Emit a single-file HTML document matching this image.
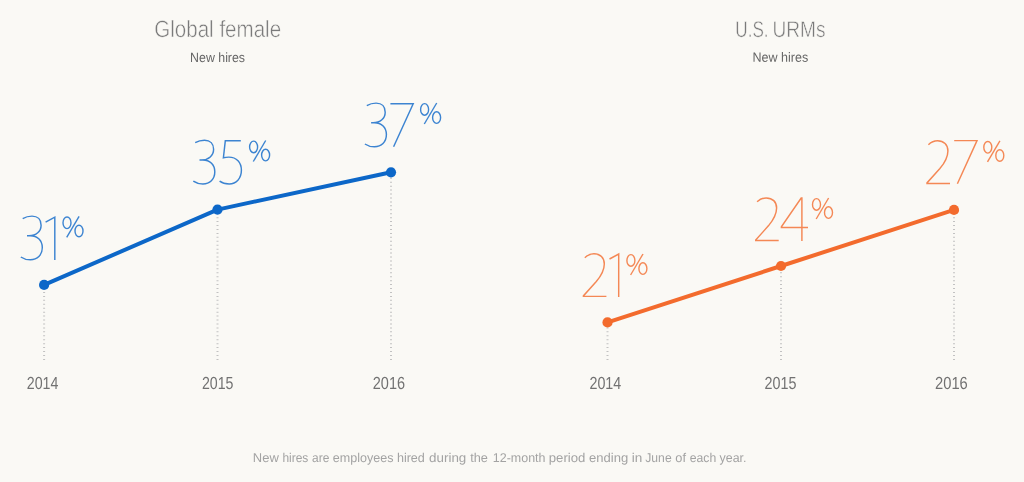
<!DOCTYPE html>
<html>
<head>
<meta charset="utf-8">
<title>New hires</title>
<style>
html,body{margin:0;padding:0;background:#faf9f5;}
body{width:1024px;height:482px;overflow:hidden;font-family:"Liberation Sans",sans-serif;}
svg{display:block;position:absolute;left:0;top:0;will-change:transform;}
text{font-family:"Liberation Sans",sans-serif;text-rendering:geometricPrecision;}
.ttl{font-size:23.6px;fill:#7a7a7a;stroke:#faf9f5;stroke-width:0.5px;paint-order:fill stroke;}
.ttl2{font-size:22.7px;}
.sub{font-size:13.3px;fill:#666;}
.yr{font-size:17.5px;fill:#727272;}
.ft{font-size:12.7px;fill:#a3a3a3;}
.dg{fill:none;stroke-opacity:0.8;stroke-width:1.45;stroke-linecap:butt;stroke-linejoin:miter;}
.pc{fill:none;stroke-opacity:0.8;stroke-width:1.4;}
.b{stroke:#0c67c8;}
.o{stroke:#f36b2d;}
.dot{stroke:#c2c2c2;stroke-width:2;stroke-dasharray:1 2.937;fill:none;}
</style>
</head>
<body>
<svg width="1024" height="482" viewBox="0 0 1024 482">
<defs>
<!-- digit glyphs: origin = left ink edge, baseline at y=0, height ~44 -->
<path id="g3" d="M2.3,-41.4 C5,-43 8.3,-43.9 11.6,-43.9 C17.4,-43.9 20.7,-40.2 20.7,-34.8 C20.7,-28.6 15.8,-24.2 8.6,-24.2 L6.6,-24.2 L9.8,-24.2 C17.2,-24.2 21.9,-19.4 21.9,-12.4 C21.9,-4.8 16.8,-0.2 10,-0.2 C6.2,-0.2 3,-1.2 0.4,-3"/>
<path id="g1" d="M-0.9,-37.9 L8.3,-42.9 L8.3,0"/>
<path id="g5" d="M21.4,-43.3 L5.9,-43.3 L4,-26.4 C5.6,-26.8 7.4,-27 9.4,-27 C17.2,-27 22,-21.6 22,-13.8 C22,-5.6 16.8,-0.2 9.8,-0.2 C6,-0.2 2.6,-1.2 0.2,-3"/>
<path id="g7" d="M-0.6,-43.3 L22.2,-43.3 L2.6,-0.2"/>
<path id="g2" d="M1.9,-39.2 C4.5,-41.6 7.5,-43.1 11,-43.1 C17.3,-43.1 21.4,-39.2 21.4,-33 C21.4,-27.3 18.4,-21.4 13.4,-15.4 L0.5,-1 L0.5,-0.5 L23.5,-0.5"/>
<path id="g4" d="M20.9,0 L20.9,-43 L20.2,-43 L0.4,-14.2 L0.4,-13.6 L27,-13.6"/>
<g id="pct">
<ellipse cx="5.1" cy="-37.6" rx="4.0" ry="5.8"/>
<ellipse cx="17.1" cy="-29.4" rx="4.0" ry="5.8"/>
<path d="M17.2,-44 L4.8,-23"/>
</g>
</defs>

<!-- titles -->
<text id="t1" class="ttl" x="154.24" y="37.2" textLength="126.87" lengthAdjust="spacingAndGlyphs" transform="rotate(0.03 154.24 37.2)">Global female</text>
<text id="s1" class="sub" x="190.09" y="61.8" textLength="54.98" lengthAdjust="spacingAndGlyphs" transform="rotate(0.03 190.09 61.8)">New hires</text>
<text id="t2a" class="ttl ttl2" x="735.32" y="37.2" textLength="33.25" lengthAdjust="spacingAndGlyphs" transform="rotate(0.03 735.32 37.2)">U.S.</text>
<text id="t2b" class="ttl ttl2" x="772.55" y="37.2" textLength="52.98" lengthAdjust="spacingAndGlyphs" transform="rotate(0.03 772.55 37.2)">URMs</text>
<text id="s2" class="sub" x="752.57" y="61.8" textLength="55.71" lengthAdjust="spacingAndGlyphs" transform="rotate(0.03 752.57 61.8)">New hires</text>
<text id="y1" class="yr" x="26.80" y="388.7" textLength="31.59" lengthAdjust="spacingAndGlyphs" transform="rotate(0.03 26.80 388.7)">2014</text>
<text id="y2" class="yr" x="201.90" y="388.7" textLength="31.49" lengthAdjust="spacingAndGlyphs" transform="rotate(0.03 201.90 388.7)">2015</text>
<text id="y3" class="yr" x="372.78" y="388.7" textLength="32.22" lengthAdjust="spacingAndGlyphs" transform="rotate(0.03 372.78 388.7)">2016</text>
<text id="y4" class="yr" x="589.46" y="388.7" textLength="31.80" lengthAdjust="spacingAndGlyphs" transform="rotate(0.03 589.46 388.7)">2014</text>
<text id="y5" class="yr" x="764.54" y="388.7" textLength="31.88" lengthAdjust="spacingAndGlyphs" transform="rotate(0.03 764.54 388.7)">2015</text>
<text id="y6" class="yr" x="935.09" y="388.7" textLength="32.71" lengthAdjust="spacingAndGlyphs" transform="rotate(0.03 935.09 388.7)">2016</text>
<text id="f1" class="ft" x="252.89" y="462.1" textLength="25.95" lengthAdjust="spacingAndGlyphs" transform="rotate(0.03 252.89 462.1)">New</text>
<text id="f2" class="ft" x="282.41" y="462.1" textLength="25.95" lengthAdjust="spacingAndGlyphs" transform="rotate(0.03 282.41 462.1)">hires</text>
<text id="f3" class="ft" x="312.01" y="462.1" textLength="17.29" lengthAdjust="spacingAndGlyphs" transform="rotate(0.03 312.01 462.1)">are</text>
<text id="f4" class="ft" x="332.82" y="462.1" textLength="60.62" lengthAdjust="spacingAndGlyphs" transform="rotate(0.03 332.82 462.1)">employees</text>
<text id="f5" class="ft" x="396.90" y="462.1" textLength="27.98" lengthAdjust="spacingAndGlyphs" transform="rotate(0.03 396.90 462.1)">hired</text>
<text id="f6" class="ft" x="429.12" y="462.1" textLength="37.21" lengthAdjust="spacingAndGlyphs" transform="rotate(0.03 429.12 462.1)">during</text>
<text id="f7" class="ft" x="470.20" y="462.1" textLength="17.72" lengthAdjust="spacingAndGlyphs" transform="rotate(0.03 470.20 462.1)">the</text>
<text id="f8" class="ft" x="492.85" y="462.1" textLength="52.67" lengthAdjust="spacingAndGlyphs" transform="rotate(0.03 492.85 462.1)">12-month</text>
<text id="f9" class="ft" x="548.77" y="462.1" textLength="36.67" lengthAdjust="spacingAndGlyphs" transform="rotate(0.03 548.77 462.1)">period</text>
<text id="f10" class="ft" x="589.08" y="462.1" textLength="39.22" lengthAdjust="spacingAndGlyphs" transform="rotate(0.03 589.08 462.1)">ending</text>
<text id="f11" class="ft" x="631.72" y="462.1" textLength="10.55" lengthAdjust="spacingAndGlyphs" transform="rotate(0.03 631.72 462.1)">in</text>
<text id="f12" class="ft" x="645.30" y="462.1" textLength="26.34" lengthAdjust="spacingAndGlyphs" transform="rotate(0.03 645.30 462.1)">June</text>
<text id="f13" class="ft" x="675.31" y="462.1" textLength="10.68" lengthAdjust="spacingAndGlyphs" transform="rotate(0.03 675.31 462.1)">of</text>
<text id="f14" class="ft" x="689.70" y="462.1" textLength="26.49" lengthAdjust="spacingAndGlyphs" transform="rotate(0.03 689.70 462.1)">each</text>
<text id="f15" class="ft" x="719.55" y="462.1" textLength="26.87" lengthAdjust="spacingAndGlyphs" transform="rotate(0.03 719.55 462.1)">year.</text>

<!-- dotted guides -->
<path class="dot" d="M44.1,359.9 V284.9 M217.5,359.9 V209.6 M391.0,359.9 V172.3 M607.5,359.9 V322.4 M781.0,359.9 V266.0 M954.0,359.9 V209.9"/>

<!-- lines -->
<polyline points="44.1,284.9 217.5,209.6 391.0,172.3" fill="none" stroke="#0c67c8" stroke-width="4" stroke-linejoin="round" stroke-linecap="round"/>
<g fill="#0c67c8"><circle cx="44.1" cy="284.9" r="5.1"/><circle cx="217.5" cy="209.6" r="5.1"/><circle cx="391.0" cy="172.3" r="5.1"/></g>
<polyline points="607.5,322.4 781.0,266.0 954.0,209.9" fill="none" stroke="#f36b2d" stroke-width="4" stroke-linejoin="round" stroke-linecap="round"/>
<g fill="#f36b2d"><circle cx="607.5" cy="322.4" r="5.1"/><circle cx="781.0" cy="266.0" r="5.1"/><circle cx="954.0" cy="209.9" r="5.1"/></g>

<!-- big numbers -->
<g class="dg b">
<use href="#g3" x="20.4" y="260"/><use href="#g1" x="46.5" y="260"/>
<use href="#g3" x="192.9" y="184.1"/><use href="#g5" x="219.4" y="184.1"/>
<use href="#g3" x="364.5" y="147"/><use href="#g7" x="391" y="147"/>
</g>
<g class="pc b">
<use href="#pct" x="61.9" y="260.4"/>
<use href="#pct" x="248.5" y="184.5"/>
<use href="#pct" x="419.5" y="147"/>
</g>
<g class="dg o">
<use href="#g2" x="582.9" y="296.9"/><use href="#g1" x="610.4" y="296.9"/>
<use href="#g2" x="755.2" y="241"/><use href="#g4" x="781" y="241"/>
<use href="#g2" x="926.5" y="183.9"/><use href="#g7" x="954.8" y="183.9"/>
</g>
<g class="pc o">
<use href="#pct" x="625.8" y="298"/>
<use href="#pct" x="811.4" y="242"/>
<use href="#pct" x="982.7" y="184.9"/>
</g>

<!-- years -->

<!-- footnote -->
</svg>
</body>
</html>
